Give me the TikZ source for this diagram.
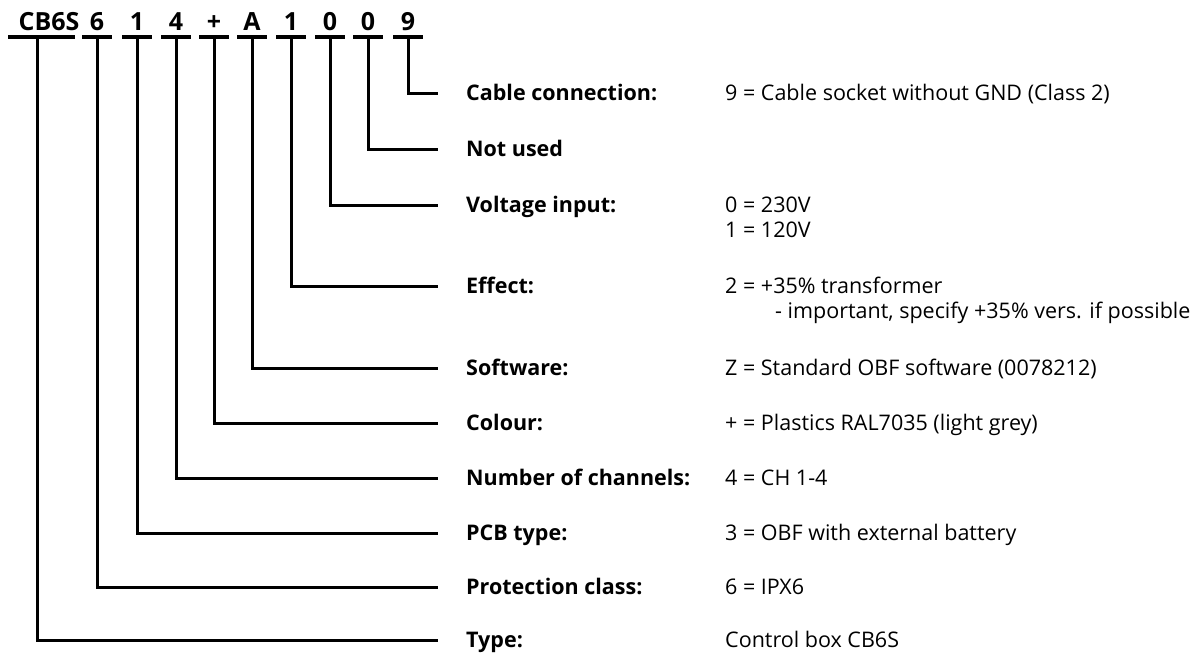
\documentclass[tikz,border=0pt]{standalone}
\usepackage{fontspec}
\setmainfont{Open Sans}
\usetikzlibrary{positioning}

\begin{document}
\begin{tikzpicture}[
x=1pt,y=-1pt,
code/.style={
font=\fontsize{25}{29}\selectfont\bfseries,
inner sep=0pt,
anchor=base},
bar/.style={line width=4pt},
lead/.style={line width=3pt},
field/.style={
font=\fontsize{21.5}{25}\selectfont\bfseries,
inner sep=0pt,
anchor=base west},
value/.style={
font=\fontsize{21.5}{25}\selectfont,
inner sep=0pt,
anchor=base west}
]
\useasboundingbox (0,0) rectangle (1203,657);
% type code on top
\node[code] (h1) at (49,30) {CB6S};
\coordinate (b1) at (37,37);
\draw[bar] ([xshift=-29pt]b1) -- ([xshift=38pt]b1);
\foreach \i/\x/\t in {
2/97/6,
3/137/1,
4/176/4,
5/214/+,
6/252/A,
7/291/1,
8/330/0,
9/368/0,
10/408/9}
{
\node[code] (h\i) at (\x,30) {\t};
\coordinate (b\i) at (\x,37);
\draw[bar] ([xshift=-15pt]b\i) -- ([xshift=15pt]b\i);
}
% fields and values
\foreach \i/\y/\f/\v in {
10/93/{Cable connection:}/{9 = Cable socket without GND (Class 2)},
9/149/{Not used}/{},
8/205/{Voltage input:}/{0 = 230V},
7/286/{Effect:}/{2 = +35\% transformer},
6/368/{Software:}/{Z = Standard OBF software (0078212)},
5/423/{Colour:}/{+ = Plastics RAL7035 (light grey)},
4/478/{Number of channels:}/{4 = CH 1-4},
3/533/{PCB type:}/{3 = OBF with external battery},
2/587/{Protection class:}/{6 = IPX6},
1/640/{Type:}/{Control box CB6S}}
{
\coordinate (e\i) at (438,\y);
\node[field] (f\i) at ([xshift=28pt,yshift=-7.7pt]e\i) {\f};
\node[value] (v\i) at ([xshift=287pt,yshift=-7.7pt]e\i) {\v};
\draw[lead] (b\i) |- (e\i);
}
\node[value] (v8b) at ([yshift=-25pt]v8.base west) {1 = 120V};
\node[value] (v7b) at ([xshift=50pt,yshift=-25pt]v7.base west) {- important, specify +35\% vers. if possible};
\end{tikzpicture}
\end{document}
